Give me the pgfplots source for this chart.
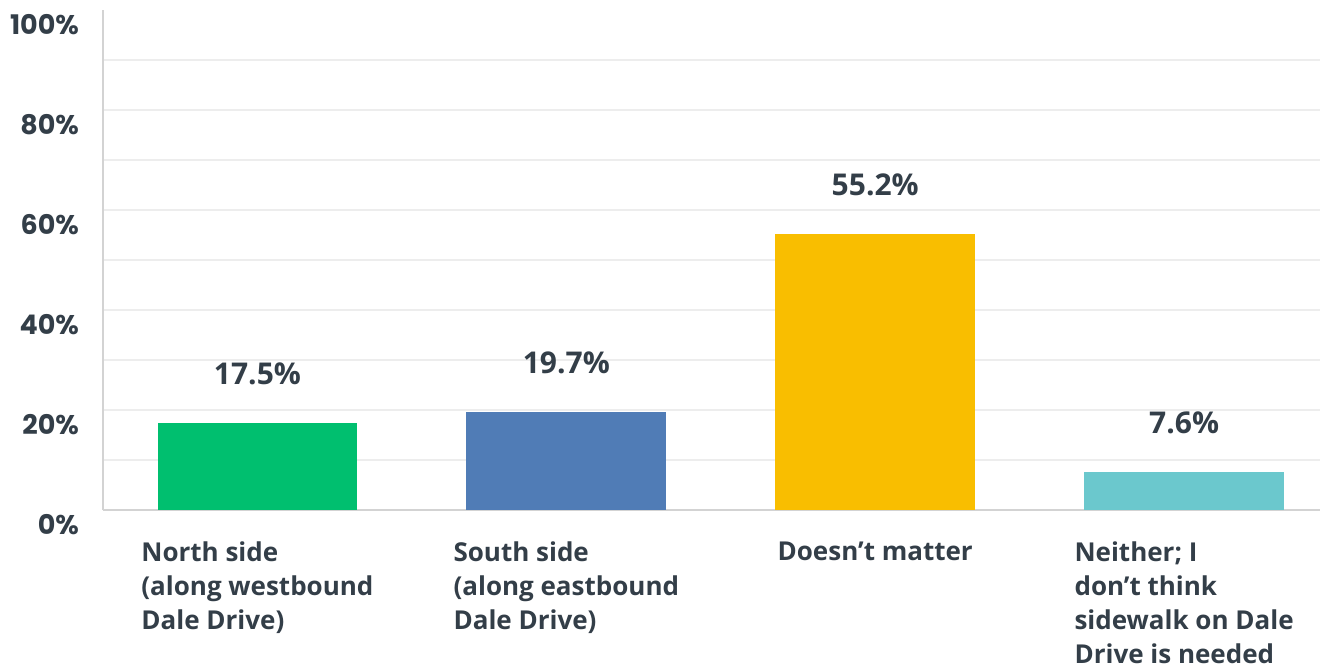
\documentclass[border=0pt]{standalone}
\usepackage{fontspec}
\setmainfont{Open Sans}
\newfontfamily\pop{Poppins}
\usepackage{pgfplots}
\pgfplotsset{compat=1.18}
\definecolor{txt}{HTML}{333E48}
\definecolor{axisgray}{HTML}{D3D3D3}
\definecolor{gridgray}{HTML}{EDEDED}
\definecolor{cgreen}{HTML}{00BF6F}
\definecolor{cblue}{HTML}{507CB6}
\definecolor{cyellow}{HTML}{F9BE00}
\definecolor{cteal}{HTML}{6BC8CD}
\begin{document}
\begin{tikzpicture}
\useasboundingbox (-51.5pt,-79pt) rectangle (608.5pt,255pt);
\begin{axis}[
  scale only axis, width=608.5pt, height=250pt,
  xmin=-0.5, xmax=3.44, ymin=0, ymax=100,
  ybar, bar width=0.647, bar shift=0pt,
  axis x line*=bottom, axis y line*=left,
  axis line style={draw=axisgray, line width=1pt, -},
  xtick={0,1,2,3},
  xticklabels={{North side\\(along westbound\\Dale Drive)},{South side\\(along eastbound\\Dale Drive)},{Doesn't matter},{Neither; I\\don't think\\sidewalk on Dale\\Drive is needed}},
  xticklabel style={anchor=north, yshift=-12.5pt, align=left, text=txt, font=\fontsize{13}{17}\selectfont\bfseries},
  ytick={0,20,...,100},
  yticklabels={0\%,20\%,40\%,60\%,80\%,100\%},
  yticklabel style={anchor=east, yshift=-7.5pt, xshift=-8.5pt, text=txt, font=\pop\bfseries\fontsize{13.5}{15}\selectfont},
  minor ytick={10,20,...,90},
  yminorgrids=true,
  minor grid style={draw=gridgray, line width=1pt},
  major tick length=0pt, minor tick length=0pt,
  tick style={draw=none},
  point meta=explicit symbolic,
  nodes near coords,
  nodes near coords style={anchor=center, yshift=24.5pt, text=txt, font=\fontsize{15}{17}\selectfont\bfseries},
  clip=false,
]
\addplot[fill=cgreen, draw=none] coordinates {(0,17.5) [17.5\%]};
\addplot[fill=cblue, draw=none] coordinates {(1,19.7) [19.7\%]};
\addplot[fill=cyellow, draw=none] coordinates {(2,55.2) [55.2\%]};
\addplot[fill=cteal, draw=none] coordinates {(3,7.6) [7.6\%]};
\end{axis}
\end{tikzpicture}
\end{document}
